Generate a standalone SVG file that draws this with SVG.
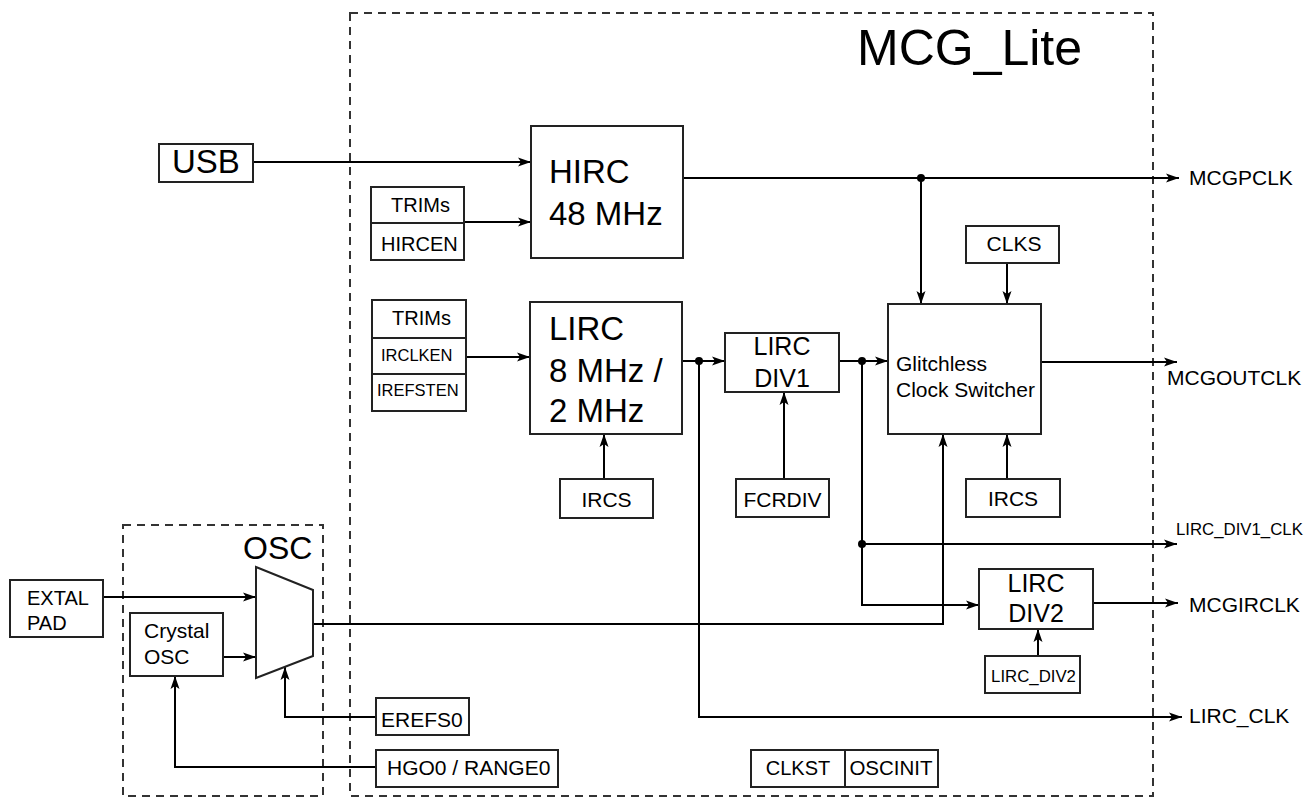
<svg xmlns="http://www.w3.org/2000/svg" width="1307" height="799" viewBox="0 0 1307 799">
<defs>
<style>
.bx{fill:#fff;stroke:#222;stroke-width:2}
.dash{fill:none;stroke:#333;stroke-width:2;stroke-dasharray:8 6}
.ln{fill:none;stroke:#000;stroke-width:2}
.ar{fill:none;stroke:#000;stroke-width:2;marker-end:url(#ah)}
.t{font-family:"Liberation Sans",Arial,Helvetica,sans-serif;fill:#000}
.dot{fill:#000}
</style>
<marker id="ah" markerWidth="14" markerHeight="10" refX="13" refY="5" orient="auto" markerUnits="userSpaceOnUse">
<path d="M0,0.5 L13,5 L0,9.5 L3,5 Z" fill="#000"/>
</marker>
</defs>
<rect width="1307" height="799" fill="#fff"/>

<g id="mcg_lite_frame">
<rect class="dash" x="350" y="13" width="803" height="783"/>
<text class="t" x="857" y="65" font-size="50">MCG_Lite</text>
</g>
<g id="osc_frame">
<rect class="dash" x="123" y="525" width="200" height="271"/>
<text class="t" x="243" y="559" font-size="32">OSC</text>
</g>

<g id="connectors">
<line class="ar" x1="253" y1="162" x2="531" y2="162"/>
<line class="ar" x1="464" y1="222" x2="531" y2="222"/>
<line class="ar" x1="683" y1="178" x2="1179" y2="178"/>
<line class="ar" x1="921" y1="178" x2="921" y2="304"/>
<line class="ar" x1="1007" y1="263" x2="1007" y2="304"/>
<line class="ar" x1="466" y1="357" x2="530" y2="357"/>
<line class="ar" x1="604" y1="479" x2="604" y2="434"/>
<line class="ar" x1="682" y1="361" x2="725" y2="361"/>
<polyline class="ar" points="699,361 699,717 1182,717"/>
<line class="ar" x1="784" y1="479" x2="784" y2="392"/>
<line class="ar" x1="839" y1="361" x2="888" y2="361"/>
<polyline class="ar" points="862,361 862,605 979,605"/>
<line class="ar" x1="862" y1="544" x2="1177" y2="544"/>
<line class="ar" x1="1041" y1="362" x2="1177" y2="362"/>
<line class="ar" x1="1007" y1="479" x2="1007" y2="434"/>
<polyline class="ar" points="313,624 943,624 943,434"/>
<line class="ar" x1="1093" y1="603" x2="1178" y2="603"/>
<line class="ar" x1="1038" y1="656" x2="1038" y2="629"/>
<line class="ar" x1="103" y1="597" x2="256" y2="597"/>
<line class="ar" x1="223" y1="657" x2="256" y2="657"/>
<polyline class="ar" points="376,717 285,717 285,667"/>
<polyline class="ar" points="376,767 175,767 175,676"/>
<circle class="dot" cx="921" cy="178" r="4"/>
<circle class="dot" cx="699" cy="361" r="4"/>
<circle class="dot" cx="862" cy="361" r="4"/>
<circle class="dot" cx="862" cy="544" r="4"/>
</g>

<g id="usb">
<rect class="bx" x="159" y="144" width="94" height="38"/>
<text class="t" x="172" y="173" font-size="33">USB</text>
</g>
<g id="hirc_ctrl">
<rect class="bx" x="371" y="187" width="93" height="36"/>
<rect class="bx" x="371" y="223" width="93" height="37"/>
<text class="t" x="391" y="212" font-size="20">TRIMs</text>
<text class="t" x="381" y="251" font-size="20">HIRCEN</text>
</g>
<g id="hirc">
<rect class="bx" x="531" y="126" width="152" height="132"/>
<text class="t" x="549" y="183" font-size="33">HIRC</text>
<text class="t" x="549" y="225" font-size="33">48 MHz</text>
</g>
<g id="lirc_ctrl">
<rect class="bx" x="372" y="300" width="94" height="38"/>
<rect class="bx" x="372" y="338" width="94" height="36"/>
<rect class="bx" x="372" y="374" width="94" height="37"/>
<text class="t" x="392" y="325" font-size="20">TRIMs</text>
<text class="t" x="381" y="361" font-size="16.5">IRCLKEN</text>
<text class="t" x="377" y="396" font-size="16.5">IREFSTEN</text>
</g>
<g id="lirc">
<rect class="bx" x="530" y="302" width="152" height="132"/>
<text class="t" x="549" y="340" font-size="33">LIRC</text>
<text class="t" x="549" y="382" font-size="33">8 MHz /</text>
<text class="t" x="549" y="422" font-size="33">2 MHz</text>
</g>
<g id="ircs1">
<rect class="bx" x="560" y="479" width="93" height="39"/>
<text class="t" x="606.5" y="507" font-size="21" text-anchor="middle">IRCS</text>
</g>
<g id="lirc_div1">
<rect class="bx" x="725" y="333" width="114" height="59"/>
<text class="t" x="782" y="355" font-size="25" text-anchor="middle">LIRC</text>
<text class="t" x="782" y="387" font-size="25" text-anchor="middle">DIV1</text>
</g>
<g id="fcrdiv">
<rect class="bx" x="736" y="479" width="93" height="38"/>
<text class="t" x="782.5" y="507" font-size="21" text-anchor="middle">FCRDIV</text>
</g>
<g id="clks">
<rect class="bx" x="966" y="226" width="93" height="37"/>
<text class="t" x="1014" y="251" font-size="21" text-anchor="middle">CLKS</text>
</g>
<g id="glitchless">
<rect class="bx" x="888" y="304" width="153" height="130"/>
<text class="t" x="896" y="371" font-size="21">Glitchless</text>
<text class="t" x="896" y="397" font-size="21">Clock Switcher</text>
</g>
<g id="ircs2">
<rect class="bx" x="966" y="479" width="94" height="38"/>
<text class="t" x="1013" y="506" font-size="21" text-anchor="middle">IRCS</text>
</g>
<g id="lirc_div2">
<rect class="bx" x="979" y="569" width="114" height="60"/>
<text class="t" x="1036" y="592" font-size="25" text-anchor="middle">LIRC</text>
<text class="t" x="1036" y="622" font-size="25" text-anchor="middle">DIV2</text>
</g>
<g id="lirc_div2_reg">
<rect class="bx" x="985" y="656" width="95" height="37"/>
<text class="t" x="1033.5" y="682" font-size="16.8" text-anchor="middle">LIRC_DIV2</text>
</g>
<g id="clkst_oscinit">
<rect class="bx" x="751" y="750" width="94" height="37"/>
<rect class="bx" x="845" y="750" width="93" height="37"/>
<text class="t" x="798" y="775" font-size="20" text-anchor="middle">CLKST</text>
<text class="t" x="891" y="775" font-size="20.5" text-anchor="middle">OSCINIT</text>
</g>
<g id="extal_pad">
<rect class="bx" x="10" y="580" width="93" height="57"/>
<text class="t" x="27" y="605" font-size="20">EXTAL</text>
<text class="t" x="27" y="630" font-size="20">PAD</text>
</g>
<g id="crystal_osc">
<rect class="bx" x="130" y="613" width="93" height="63"/>
<text class="t" x="144" y="638" font-size="21">Crystal</text>
<text class="t" x="144" y="664" font-size="21">OSC</text>
</g>
<g id="mux">
<polygon class="bx" points="256,567 313,590 313,656 256,678"/>
</g>
<g id="erefs0">
<rect class="bx" x="376" y="698" width="93" height="37"/>
<text class="t" x="381" y="727" font-size="21">EREFS0</text>
</g>
<g id="hgo0_range0">
<rect class="bx" x="376" y="750" width="182" height="37"/>
<text class="t" x="387" y="775" font-size="21">HGO0 / RANGE0</text>
</g>
<g id="outputs">
<text class="t" x="1189" y="185" font-size="21">MCGPCLK</text>
<text class="t" x="1167" y="385" font-size="21">MCGOUTCLK</text>
<text class="t" x="1176" y="535" font-size="16.8">LIRC_DIV1_CLK</text>
<text class="t" x="1189" y="612" font-size="21">MCGIRCLK</text>
<text class="t" x="1189" y="723" font-size="21">LIRC_CLK</text>
</g>
</svg>
